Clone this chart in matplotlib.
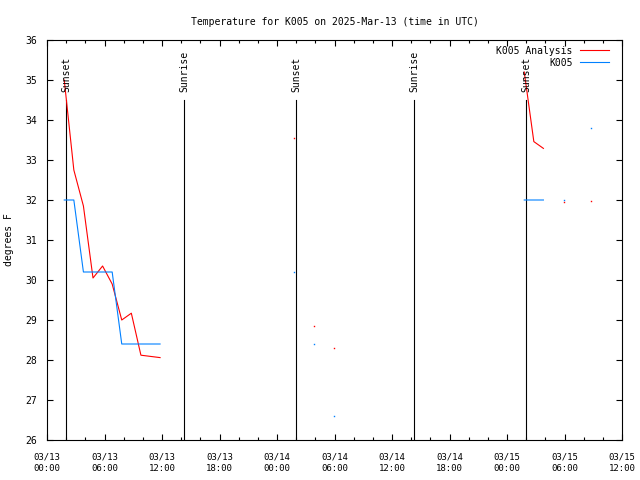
import numpy as np
import matplotlib
matplotlib.use("Agg")
import matplotlib.pyplot as plt

# hours since 2025-03-13 00:00 UTC; nan marks a missing hour
hours = [1.8, 2.8, 3.8, 4.8, 5.8, 6.8, 7.8, 8.8, 9.8, 10.8, 11.8, 12.8,
         25.8, 26.8, 27.9, 28.9, 29.9, 30.9,
         49.8, 50.8, 51.8, 52.8, 53.9, 54.9, 56.8]
analysis = [35.0, 32.75, 31.85, 30.05, 30.35, 29.9, 29.0, 29.17, 28.12, 28.09, 28.06, np.nan,
            33.54, np.nan, 28.84, np.nan, 28.29, np.nan,
            35.2, 33.46, 33.29, np.nan, 31.94, np.nan, 31.97]
obs = [32.0, 32.0, 30.2, 30.2, 30.2, 30.2, 28.4, 28.4, 28.4, 28.4, 28.4, np.nan,
       30.2, np.nan, 28.4, np.nan, 26.6, np.nan,
       32.0, 32.0, 32.0, np.nan, 32.0, np.nan, 33.8]

sun_hours = [2.0, 14.3, 26.0, 38.3, 50.0]
sun_labels = ["Sunset", "Sunrise", "Sunset", "Sunrise", "Sunset"]

tick_hours = list(range(0, 61, 6))
tick_labels = ["03/13\n00:00", "03/13\n06:00", "03/13\n12:00", "03/13\n18:00",
               "03/14\n00:00", "03/14\n06:00", "03/14\n12:00", "03/14\n18:00",
               "03/15\n00:00", "03/15\n06:00", "03/15\n12:00"]

plt.rcParams["font.family"] = "DejaVu Sans Mono"
plt.rcParams["font.size"] = 7


def isolated(xs, ys):
    ys = np.asarray(ys, dtype=float)
    px, py = [], []
    for i in range(len(ys)):
        if np.isnan(ys[i]):
            continue
        left = i == 0 or np.isnan(ys[i - 1])
        right = i == len(ys) - 1 or np.isnan(ys[i + 1])
        if left and right:
            px.append(xs[i])
            py.append(ys[i])
    return px, py


fig = plt.figure(figsize=(6.4, 4.8), dpi=100)
ax = fig.add_axes([47 / 640, 40 / 480, 575 / 640, 400 / 480])

for h, lab in zip(sun_hours, sun_labels):
    ax.plot([h, h], [26, 34.5], color="black", lw=0.8)
    ax.text(h, 34.7, lab, rotation=90, ha="center", va="bottom")

ax.plot(hours, analysis, color="#ff0000", lw=0.8, label="K005 Analysis")
ax.plot(hours, obs, color="#0080ff", lw=0.8, label="K005")
for ys, c in [(analysis, "#ff0000"), (obs, "#0080ff")]:
    px, py = isolated(hours, ys)
    ax.plot(px, py, ls="none", marker="s", ms=1.0, mew=0, color=c)

ax.set_xlim(0, 60)
ax.set_ylim(26, 36)
ax.set_xticks(tick_hours)
ax.set_xticklabels(tick_labels, fontsize=6.5, linespacing=1.3)
ax.set_xticks(range(0, 61, 2), minor=True)
ax.set_yticks(range(26, 37))
ax.tick_params(which="both", direction="in", top=True, right=True, width=0.8)
ax.tick_params(which="major", length=4, pad=7)
ax.tick_params(axis="x", which="major", pad=9)
ax.tick_params(which="minor", length=2)
for s in ax.spines.values():
    s.set_linewidth(0.8)

ax.set_ylabel("degrees F", labelpad=8)
ax.set_title("Temperature for K005 on 2025-Mar-13 (time in UTC)", fontsize=7, pad=11)
ax.legend(loc="upper right", bbox_to_anchor=(0.985, 0.995), borderaxespad=0,
          frameon=False, markerfirst=False, handlelength=3.0,
          labelspacing=0.2, handletextpad=0.8)

fig.savefig("out.png", dpi=100)
